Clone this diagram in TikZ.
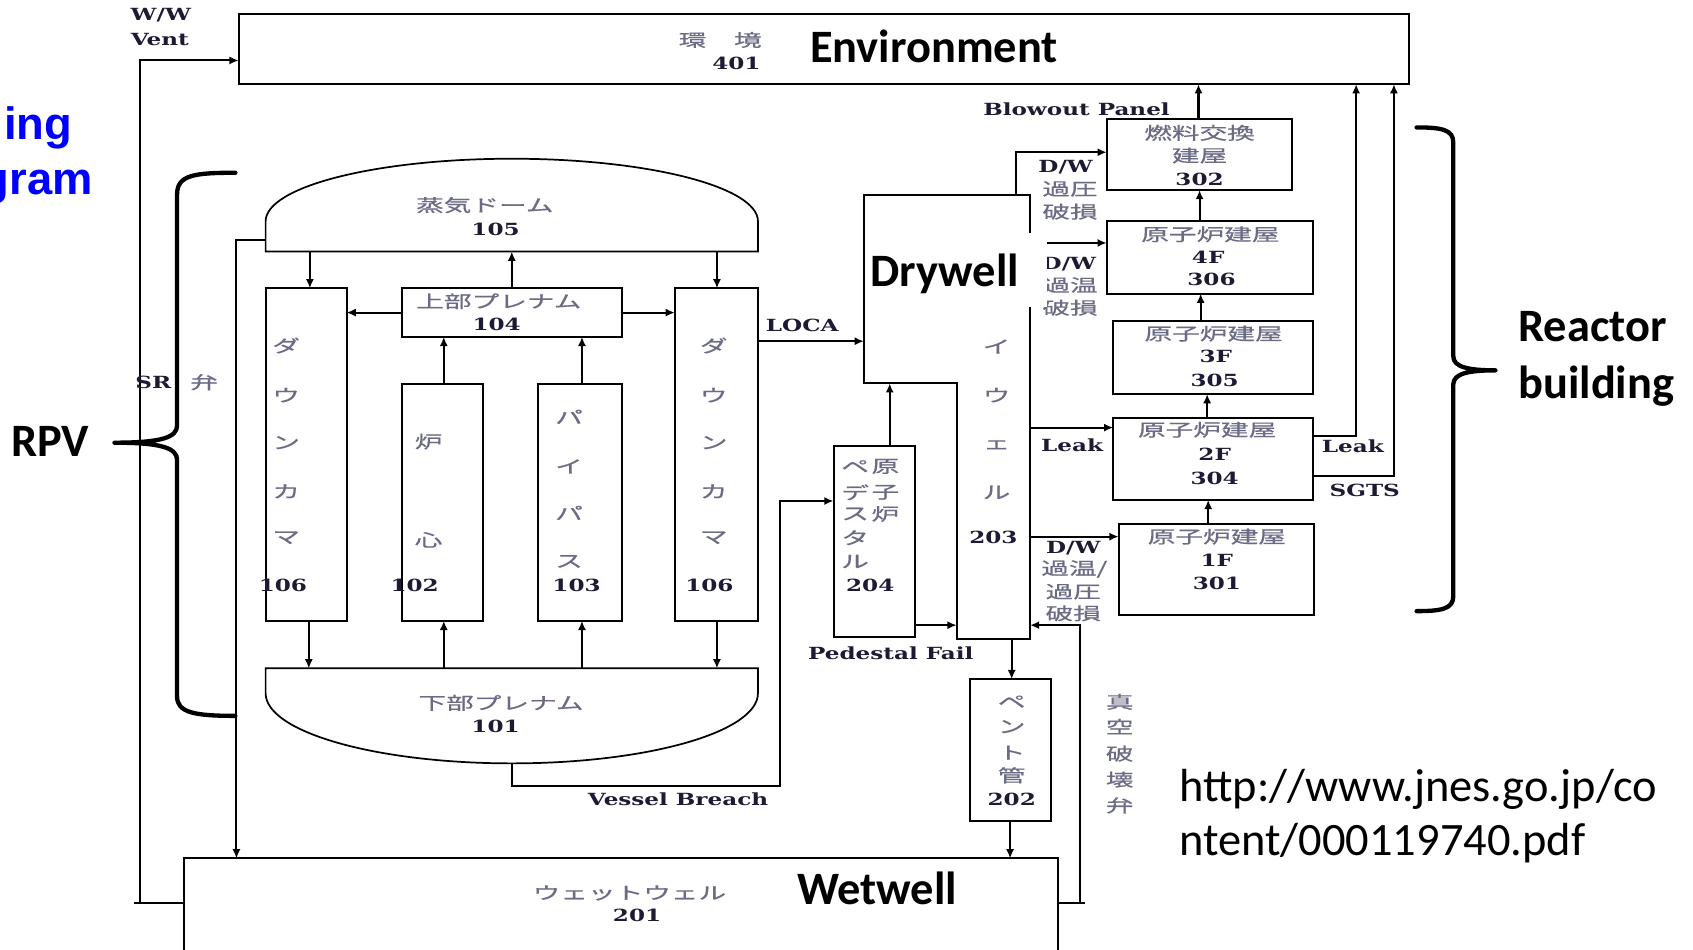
\documentclass[tikz,border=0pt]{standalone}
\usepackage{fontspec}
\setmainfont{Carlito}
\newfontfamily\jpf[FakeStretch=1.6,FakeBold=0.6]{Noto Sans CJK JP}
\newfontfamily\serf[FakeStretch=1.38]{DejaVu Serif}
\newfontfamily\arialf{Liberation Sans}
\usetikzlibrary{arrows.meta}
\definecolor{jpc}{rgb}{0.42,0.42,0.52}
\definecolor{numc}{rgb}{0.12,0.1,0.2}
\definecolor{bluet}{rgb}{0,0,1}
\begin{document}
\begin{tikzpicture}[x=1pt,y=-1pt,
  bx/.style={draw, line width=1.9pt, inner sep=0pt, outer sep=0pt, anchor=north west},
  gh/.style={inner sep=0pt, outer sep=0pt, anchor=north west},
  ln/.style={line width=1.9pt},
  arr/.style={line width=1.9pt, -{Latex[length=8.5pt,width=7.5pt]}},
  jp/.style={font=\jpf\fontsize{16}{18}\selectfont, text=jpc, inner sep=0pt},
  num/.style={font=\serf\bfseries\fontsize{15.5}{17}\selectfont, text=numc, inner sep=0pt},
  big/.style={font=\bfseries\fontsize{43}{50}\selectfont, inner sep=0pt, anchor=base west},
  url/.style={font=\fontsize{43}{50}\selectfont, inner sep=0pt, anchor=base west},
  brace/.style={line width=4pt, line cap=round, line join=round}
]
\useasboundingbox (0,0) rectangle (1568,879);
\fill[white] (0,0) rectangle (1568,879);
\clip (0,0) rectangle (1568,879);

% ---------- boxes ----------
\node[bx, minimum width=1084pt, minimum height=65pt] (env) at (221,13) {};
\node[bx, minimum width=75pt, minimum height=308pt] (dc1) at (246,267) {};
\node[bx, minimum width=204pt, minimum height=45pt] (up) at (372,267) {};
\node[bx, minimum width=75pt, minimum height=219pt] (core) at (372,356) {};
\node[bx, minimum width=78pt, minimum height=219pt] (byp) at (498,356) {};
\node[bx, minimum width=77pt, minimum height=308pt] (dc2) at (625,267) {};
\node[bx, minimum width=75pt, minimum height=177pt] (ped) at (772,413) {};
\node[bx, minimum width=75pt, minimum height=131pt] (vp) at (898,629) {};
\node[bx, minimum width=810pt, minimum height=120pt] (ww) at (170,795) {};
\node[bx, minimum width=172pt, minimum height=66pt] (b302) at (1025,110) {};
\node[bx, minimum width=191pt, minimum height=67pt] (b306) at (1025,205) {};
\node[bx, minimum width=185pt, minimum height=68pt] (b305) at (1031,297) {};
\node[bx, minimum width=185pt, minimum height=76pt] (b304) at (1031,387) {};
\node[bx, minimum width=181pt, minimum height=85pt] (b301) at (1036,485) {};

% steam dome and lower plenum
\node[gh, minimum width=456pt, minimum height=86pt] (dome) at (246,147) {};
\draw[line width=1.6pt] (dome.south west) -- ++(0,-28) arc[start angle=180,end angle=360,x radius=228,y radius=58] -- (dome.south east) -- cycle;
\node[gh, minimum width=456pt, minimum height=88pt] (lp) at (246,619) {};
\draw[line width=1.6pt] (lp.north west) -- (lp.north east) -- ++(0,23) arc[start angle=0,end angle=180,x radius=228,y radius=65] -- cycle;

% drywell
\node[gh, minimum width=154pt, minimum height=174pt] (dw) at (800,181) {};
\node[gh, minimum width=68pt, minimum height=237pt] (c203) at (886,355) {};
\draw[ln] (dw.north west) -- (dw.north east) -- (c203.south east) -- (c203.south west) -- (c203.north west) -- (dw.south west) -- cycle;

% ---------- connectors ----------
\draw[arr] (287,0 |- dome.south) -- (287,0 |- dc1.north);
\draw[arr] (up.north) -- (up.north |- dome.south);
\draw[arr] (664,0 |- dome.south) -- (664,0 |- dc2.north);
\draw[arr] (up.west) -- (up.west -| dc1.east);
\draw[arr] (up.east) -- (up.east -| dc2.west);
\draw[arr] (411,0 |- core.north) -- (411,0 |- up.south);
\draw[arr] (539,0 |- byp.north) -- (539,0 |- up.south);
\draw[arr] (286,0 |- dc1.south) -- (286,0 |- lp.north);
\draw[arr] (411,0 |- lp.north) -- (411,0 |- core.south);
\draw[arr] (539,0 |- lp.north) -- (539,0 |- byp.south);
\draw[arr] (664,0 |- dc2.south) -- (664,0 |- lp.north);
\draw[arr] (dc2.east |- 0,316) -- (dw.west |- 0,316);
\draw[arr] (lp.south) |- (722,728) |- (ped.west |- 0,464);
\draw[arr] (824,0 |- ped.north) -- (824,0 |- dw.south);
\draw[arr] (ped.east |- 0,579) -- (c203.west |- 0,579);
\draw[arr] (937,0 |- c203.south) -- (937,0 |- vp.north);
\draw[arr] (vp.south) -- (vp.south |- ww.north);
\draw[arr] (dome.west |- 0,222) -| (219,0 |- ww.north);
\draw[ln] (ww.west |- 0,836) -- (124,836);
\draw[arr] (130,836) |- (env.west |- 0,56);
\draw[ln] (ww.east |- 0,836) -- (1005,836);
\draw[arr] (1000,836) |- (c203.east |- 0,579);
\draw[arr] (941,0 |- dw.north) |- (b302.west |- 0,141);
\draw[arr] (dw.east |- 0,225) -- (b306.west |- 0,225);
\draw[arr] (c203.east |- 0,396) -- (b304.west |- 0,396);
\draw[arr] (c203.east |- 0,497) -- (b301.west |- 0,497);
\draw[arr] (1119,0 |- b301.north) -- (1119,0 |- b304.south);
\draw[arr] (1118,0 |- b304.north) -- (1118,0 |- b305.south);
\draw[arr] (1112,0 |- b305.north) -- (1112,0 |- b306.south);
\draw[arr] (1111,0 |- b306.north) -- (1111,0 |- b302.south);
\draw[arr] (1110,0 |- b302.north) -- (1110,0 |- env.south);
\draw[arr] (b304.east |- 0,404) -| (1256,0 |- env.south);
\draw[arr] (b304.east |- 0,441) -| (1291,0 |- env.south);

% ---------- braces ----------
\draw[brace] (218,160) .. controls (180,160) and (164,162) .. (164,180) -- (164,394) .. controls (164,405) and (150,410) .. (106,410) .. controls (150,410) and (164,415) .. (164,426) -- (164,645) .. controls (164,660) and (180,663) .. (218,663);
\draw[brace] (1312,118) .. controls (1335,118) and (1346,120) .. (1346,132) -- (1346,330) .. controls (1346,340) and (1360,343) .. (1385,343) .. controls (1360,343) and (1346,346) .. (1346,356) -- (1346,552) .. controls (1346,564) and (1335,566) .. (1312,566);

% ---------- labels ----------
\node[num] (tww) at (149,14) {W/W};
\node[num] (tvent) at (148,37) {Vent};
\node[jp] (tenvj) at (667,37) {環　境};
\node[num] (t401) at (682,59) {401};
\node[big] (tenv) at (750,58) {Environment};
\node[num] (tblow) at (997,101) {Blowout Panel};

\node[jp] (tdomej) at (449,190) {蒸気ドーム};
\node[num] (t105) at (459,212) {105};
\node[jp] (tupj) at (462,279) {上部プレナム};
\node[num] (t104) at (460,300) {104};
\foreach \ch/\yy [count=\i] in {ダ/320,ウ/366,ン/410,カ/455,マ/498}
  {\node[jp] (dcla\i) at (265,\yy) {\ch};
   \node[jp] (dclb\i) at (661,\yy) {\ch};}
\node[num] (t106a) at (262,542) {106};
\node[num] (t106b) at (657,542) {106};
\node[jp] (tcore1) at (397,409) {炉};
\node[jp] (tcore2) at (397,500) {心};
\node[num] (t102) at (384,542) {102};
\foreach \ch/\yy [count=\i] in {パ/386,イ/432,パ/475,ス/520}
  {\node[jp] (tbyp\i) at (527,\yy) {\ch};}
\node[num] (t103) at (534,542) {103};
\node[jp] (tlpj) at (464,651) {下部プレナム};
\node[num] (t101) at (459,673) {101};

\node[num] (tloca) at (743,301) {LOCA};
\node[num] (tvb) at (628,740) {Vessel Breach};
\node[num] (tpf) at (825,605) {Pedestal Fail};
\node[num] (tsr) at (142,354) {SR};
\node[jp] (tsrj) at (189,354) {弁};

\foreach \ch/\yy [count=\i] in {イ/321,ウ/366,ェ/412,ル/456}
  {\node[jp] (tdw\i) at (923,\yy) {\ch};}
\node[num] (t203) at (920,498) {203};
\foreach \ch/\yy [count=\i] in {ペ/432,デ/456,ス/476,タ/498,ル/520}
  {\node[jp] (tpl\i) at (792,\yy) {\ch};}
\foreach \ch/\yy [count=\i] in {原/432,子/456,炉/476}
  {\node[jp] (tpr\i) at (820,\yy) {\ch};}
\node[num] (t204) at (806,542) {204};
\foreach \ch/\yy [count=\i] in {ペ/650,ン/673,ト/697,管/718}
  {\node[jp] (tvp\i) at (937,\yy) {\ch};}
\node[num] (t202) at (937,740) {202};
\foreach \ch/\yy [count=\i] in {真/650,空/673,破/698,壊/722,弁/746}
  {\node[jp] (tvb\i) at (1037,\yy) {\ch};}

\node[jp] (twwj) at (583,827) {ウェットウェル};
\node[num] (t201) at (590,848) {201};
\node[big] (tww2) at (738,838) {Wetwell};

\node[jp] (t302a) at (1111,123) {燃料交換};
\node[jp] (t302b) at (1111,144) {建屋};
\node[num] (t302) at (1111,166) {302};
\node[jp] (t306a) at (1121,217) {原子炉建屋};
\node[num] (t306b) at (1119,238) {4F};
\node[num] (t306) at (1122,259) {306};
\node[jp] (t305a) at (1124,309) {原子炉建屋};
\node[num] (t305b) at (1126,330) {3F};
\node[num] (t305) at (1125,352) {305};
\node[jp] (t304a) at (1118,398) {原子炉建屋};
\node[num] (t304b) at (1125,421) {2F};
\node[num] (t304) at (1125,443) {304};
\node[jp] (t301a) at (1127,497) {原子炉建屋};
\node[num] (t301b) at (1127,519) {1F};
\node[num] (t301) at (1127,540) {301};

\node[num] (tdwa1) at (987,155) {D/W};
\node[jp] (tdwa2) at (991,175) {過圧};
\node[jp] (tdwa3) at (991,196) {破損};
\node[num] (tdwb1) at (990,245) {D/W};
\node[jp] (tdwb2) at (991,264) {過温};
\node[jp] (tdwb3) at (991,285) {破損};
\node[num] (tleak1) at (993,412) {Leak};
\node[num] (tdwc1) at (994,508) {D/W};
\node[jp] (tdwc2) at (995,527) {過温/};
\node[jp] (tdwc3) at (994,548) {過圧};
\node[jp] (tdwc4) at (994,568) {破損};
\node[num] (tleak2) at (1253,413) {Leak};
\node[num] (tsgts) at (1264,454) {SGTS};

% Drywell label over a white patch
\fill[white] (803,216) rectangle (970,284);
\node[big] (tdry) at (806,265) {Drywell};

\node[big] (trpv) at (10,423) {RPV};
\node[big] (treac) at (1406,316) {Reactor};
\node[big] (tbuild) at (1406,369) {building};
\node[url] (turl1) at (1092,742) {http://www.jnes.go.jp/co};
\node[url] (turl2) at (1092,792) {ntent/000119740.pdf};
\node[font=\arialf\bfseries\fontsize{42}{48}\selectfont, text=bluet, inner sep=0pt, anchor=base east] (ting) at (67,129) {ing};
\node[font=\arialf\bfseries\fontsize{42}{48}\selectfont, text=bluet, inner sep=0pt, anchor=base east] (tgram) at (86,180) {gram};
\end{tikzpicture}
\end{document}
